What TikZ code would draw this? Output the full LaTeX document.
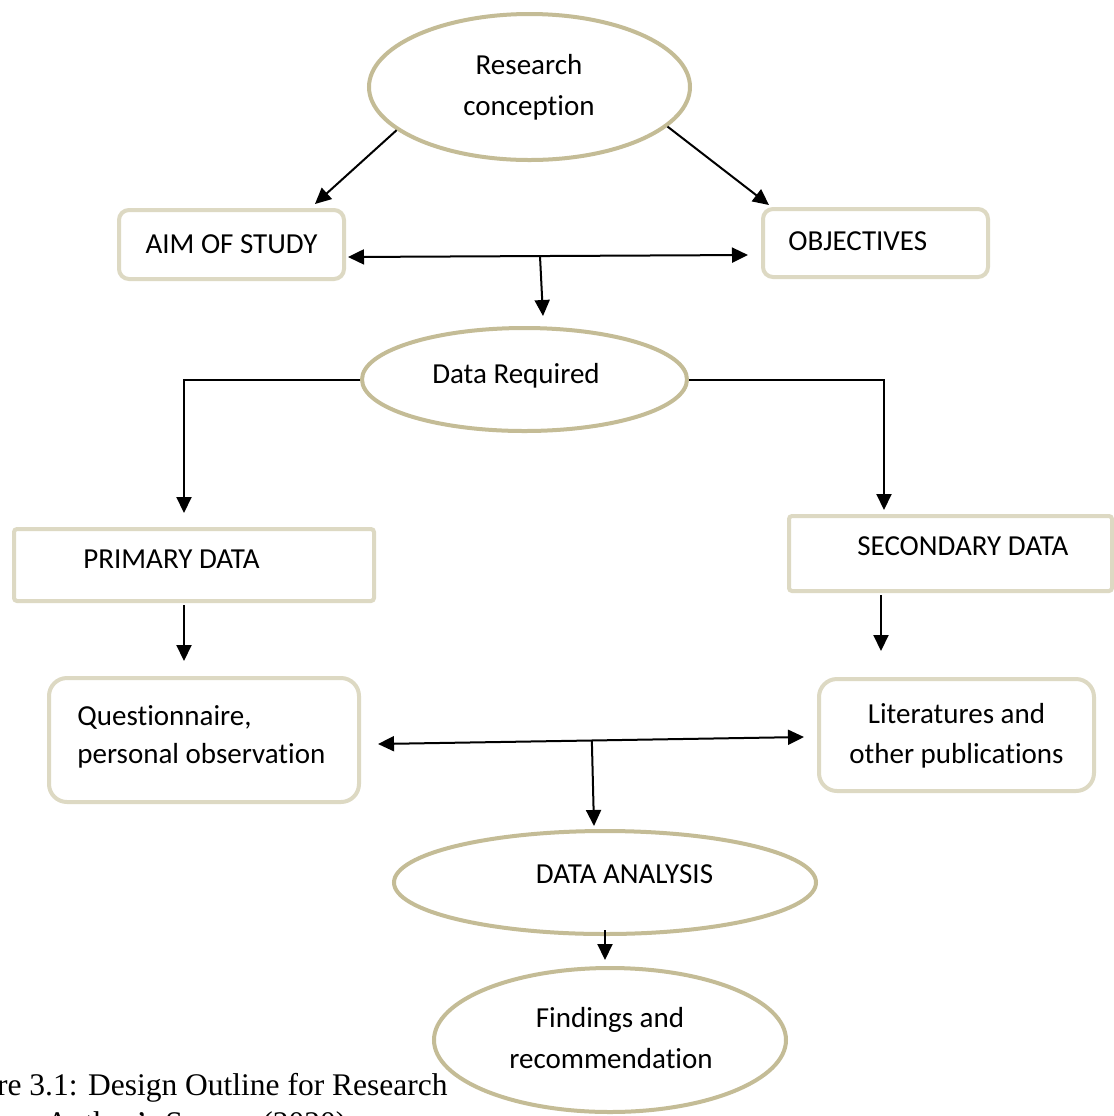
\documentclass[tikz,border=0pt]{standalone}
\usepackage{fontspec}
\setmainfont{Carlito}[Ligatures={TeX,NoCommon}]
\newfontfamily\capfont{Liberation Serif}
\usetikzlibrary{shapes.geometric,arrows.meta,calc}
\definecolor{tanline}{HTML}{C4BC96}
\definecolor{tanlight}{HTML}{DDD9C3}

\begin{document}
\begin{tikzpicture}[x=0.5pt,y=-0.5pt,
  oval/.style={ellipse, draw=tanline, line width=2pt, fill=white, inner sep=0pt},
  box/.style={rectangle, draw=tanlight, line width=2pt, fill=white, inner sep=0pt, rounded corners=5pt},
  softbox/.style={box, rounded corners=9pt},
  plainbox/.style={box, rounded corners=1.5pt},
  lbl/.style={anchor=base, inner sep=0pt, font=\fontsize{14.5}{17}\selectfont},
  lblleft/.style={lbl, anchor=base west},
  captxt/.style={inner sep=0pt, font=\capfont\fontsize{15.75}{18}\selectfont},
  conn/.style={line width=1pt, -{Triangle[length=8pt,width=7.5pt]}},
  twoway/.style={line width=1pt, {Triangle[length=8pt,width=7.5pt]}-{Triangle[length=8pt,width=7.5pt]}},
]
% page
\fill[white] (0,0) rectangle (1114,1116);
\useasboundingbox (0,0) rectangle (1114,1116);

% shapes
\node[oval, minimum width=160.5pt, minimum height=73pt] (rc) at (529.5,87) {};
\node[box, minimum width=112.5pt, minimum height=34.5pt] (aim) at (231.5,244.5) {};
\node[box, minimum width=112.5pt, minimum height=34pt] (obj) at (875.5,243) {};
\node[oval, minimum width=162.5pt, minimum height=51.5pt] (dr) at (524.5,379.5) {};
\node[plainbox, minimum width=180pt, minimum height=36pt] (pri) at (194,565) {};
\node[plainbox, minimum width=161.5pt, minimum height=37.5pt] (sec) at (950.5,553.5) {};
\node[softbox, minimum width=155pt, minimum height=62pt] (q) at (204,740) {};
\node[softbox, minimum width=137.5pt, minimum height=56pt] (lit) at (956.5,735) {};
\node[oval, minimum width=211pt, minimum height=51.5pt] (da) at (605,882.5) {};
\node[oval, minimum width=176pt, minimum height=72pt] (fr) at (610,1040) {};

% texts
\node[lbl] (rc1) at (529,74) {Research};
\node[lbl] (rc2) at (529,115) {conception};
\node[lbl] (aimt) at (231.5,253) {AIM OF STUDY};
\node[lblleft] (objt) at (788,250) {OBJECTIVES};
\node[lbl] (drt) at (516,383) {Data Required};
\node[lblleft] (prit) at (83,568) {PRIMARY DATA};
\node[lblleft] (sect) at (857,555) {SECONDARY DATA};
\node[lblleft] (q1) at (77,725) {Questionnaire,};
\node[lblleft] (q2) at (77,763) {personal observation};
\node[lbl] (lit1) at (956.5,723) {Literatures and};
\node[lbl] (lit2) at (956.5,763) {other publications};
\node[lbl] (dat) at (624.5,883) {DATA ANALYSIS};
\node[lbl] (fr1) at (610,1027) {Findings and};
\node[lbl] (fr2) at (611,1068) {recommendation};

% connectors
\draw[conn] (rc.198) -- ($(aim.north east)+(-31,-4)$);
\draw[conn] (rc.-16) -- ($(obj.north west)+(8,-2)$);
\coordinate (aimR) at ($(aim.east)+(2,12.5)$);
\coordinate (objL) at ($(obj.west)+(-13,12)$);
\draw[twoway] (aimR) -- (objL);
\draw[conn] ($(aimR)!0.48!(objL)$) -- ($(dr.north)+(18.5,-10)$);
\draw[conn] (dr.west) -| ($(pri.north)+(-10,-14)$);
\draw[conn] (dr.east) -| ($(sec.north)+(-66.5,-4)$);
\draw[conn] ($(pri.south)+(-10,2)$) -- ($(q.north)+(-20,-15)$);
\draw[conn] ($(sec.south)+(-69.5,2)$) -- ($(lit.north)+(-75.5,-26)$);
\coordinate (qR) at ($(q.east)+(17,4)$);
\coordinate (litL) at ($(lit.west)+(-13,2)$);
\draw[twoway] (qR) -- (litL);
\draw[conn] ($(qR)!0.502!(litL)$) -- ($(da.north)+(-11,-3)$);
\draw[conn] ($(da.south)+(0,-6)$) -- ($(fr.north)+(-5,-6)$);

% caption
\node[captxt, anchor=base east] (cap1) at (448,1095) {Figure 3.1: Design Outline for Research};
\node[captxt, anchor=base west] (cap2) at ($(cap1.base west)+(0,38)$) {Source: Author’s Survey (2020)};
\end{tikzpicture}
\end{document}
